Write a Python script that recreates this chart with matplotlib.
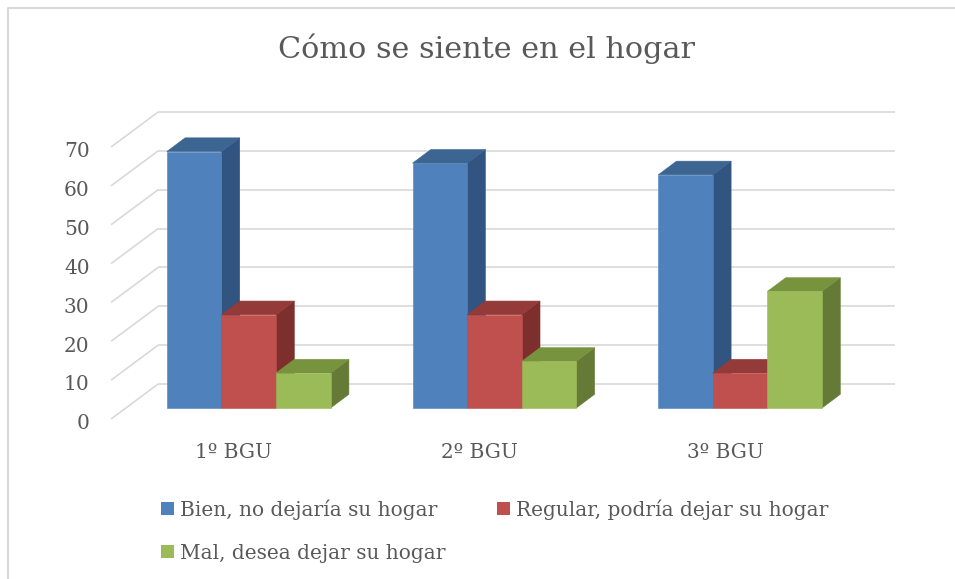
import matplotlib
matplotlib.use("Agg")
import matplotlib.pyplot as plt
import matplotlib.transforms as mtransforms
from matplotlib.patches import Polygon, Patch
from matplotlib.lines import Line2D
import numpy as np

# ---------------- data ----------------
title = "Cómo se siente en el hogar"
categories = ["1º BGU", "2º BGU", "3º BGU"]
series_names = ["Bien, no dejaría su hogar",
                "Regular, podría dejar su hogar",
                "Mal, desea dejar su hogar"]
bien = [66, 63, 60]
regular = [24, 24, 9]
mal = [9, 12, 30]
yticks = [0, 10, 20, 30, 40, 50, 60, 70]

series_values = [bien, regular, mal]
front_colors = ["#4f81bd", "#c0504d", "#9bbb59"]
top_colors = ["#3d6592", "#943a38", "#77933e"]
side_colors = ["#325480", "#7c2f2d", "#657a36"]

FONT = "DejaVu Serif"
TXT = "#595959"
GRID = "#d9d9d9"
FS = 14.5

W, H = 955, 579
fig = plt.figure(figsize=(W / 100, H / 100), dpi=100)
fig.patch.set_facecolor("white")

# front plane of the bars
left_px, right_px = 125.85, 862.95
bottom_px_top, top_px_top = 408.0, 136.0   # image coordinates (from top)
ax = fig.add_axes([left_px / W, (H - bottom_px_top) / H,
                   (right_px - left_px) / W, (bottom_px_top - top_px_top) / H])
ax.set_xlim(-0.5, 2.5)
ax.set_ylim(0, 70)
ax.axis("off")

sx = 3.0 / (right_px - left_px)          # category units per pixel
sy = 70.0 / (bottom_px_top - top_px_top)  # value units per pixel

def off(dx, dy_up):
    return ax.transData + mtransforms.Affine2D().translate(dx, dy_up)

# walls: back wall offset and side wall front edge offset (pixels)
back_dx, back_dy = 32.3, 24.0
side_dx, side_dy = -14.8, -11.0

for v in yticks:
    ax.plot([-0.5, 2.5], [v, v], color=GRID, lw=1.2, transform=off(back_dx, back_dy),
            clip_on=False, zorder=1, solid_capstyle="butt")
    ax.plot([-0.5 + side_dx * sx, -0.5 + back_dx * sx],
            [v + side_dy * sy, v + back_dy * sy],
            color=GRID, lw=1.2, clip_on=False, zorder=1, solid_capstyle="butt")
    ax.text(-0.5, v, str(v), transform=off(-36.35, -21.3), ha="right", va="baseline",
            fontsize=FS, color=TXT, family=FONT, clip_on=False)

# bars
n = len(series_values)
group_w = 1 / 1.5
bw = group_w / n
ddx, ddy = 18.3 * sx, 13.7 * sy
x = np.arange(len(categories))
handles = []
for i, (vals, fc, tc, sc) in enumerate(zip(series_values, front_colors, top_colors, side_colors)):
    xs = x - group_w / 2 + i * bw + bw / 2
    bars = ax.bar(xs, vals, width=bw, color=fc, edgecolor=fc, linewidth=0.4,
                  zorder=3 + 3 * i, clip_on=False)
    for rect in bars:
        xl = rect.get_x()
        w = rect.get_width()
        v = rect.get_height()
        side = Polygon([(xl + w, 0), (xl + w, v), (xl + w + ddx, v + ddy), (xl + w + ddx, ddy)],
                       closed=True, facecolor=sc, edgecolor=sc, lw=0.4, zorder=2 + 3 * i,
                       clip_on=False)
        top = Polygon([(xl, v), (xl + w, v), (xl + w + ddx, v + ddy), (xl + ddx, v + ddy)],
                      closed=True, facecolor=tc, edgecolor=tc, lw=0.4, zorder=2 + 3 * i,
                      clip_on=False)
        ax.add_patch(side)
        ax.add_patch(top)
    handles.append(Patch(facecolor=fc, edgecolor="none", label=series_names[i]))

# category labels
for c, lab in zip(x, categories):
    ax.text(c, 0, lab, transform=off(side_dx, -50.5), ha="center", va="baseline",
            fontsize=FS, color=TXT, family=FONT, clip_on=False)

# title
fig.text(486.5 / W, (H - 58.3) / H, title, ha="center", va="baseline",
         fontsize=21.8, color=TXT, family=FONT)

# legend (row-major order: Bien, Regular / Mal)
order = [0, 2, 1]
leg = fig.legend([handles[k] for k in order], [series_names[k] for k in order],
                 ncol=2, loc="upper left", bbox_to_anchor=(161 / W, (H - 499) / H),
                 frameon=False, prop={"family": FONT, "size": FS},
                 handlelength=0.65, handleheight=0.65, handletextpad=0.3,
                 columnspacing=2.55, labelspacing=1.2, borderaxespad=0, borderpad=0)
for t in leg.get_texts():
    t.set_color(TXT)

# chart border
fig.add_artist(Line2D([7.5 / W, 7.5 / W, 1.0], [0, (H - 7.5) / H, (H - 7.5) / H],
                      transform=fig.transFigure, color=GRID, lw=1.5))

fig.savefig("out.png", dpi=100, facecolor="white")
